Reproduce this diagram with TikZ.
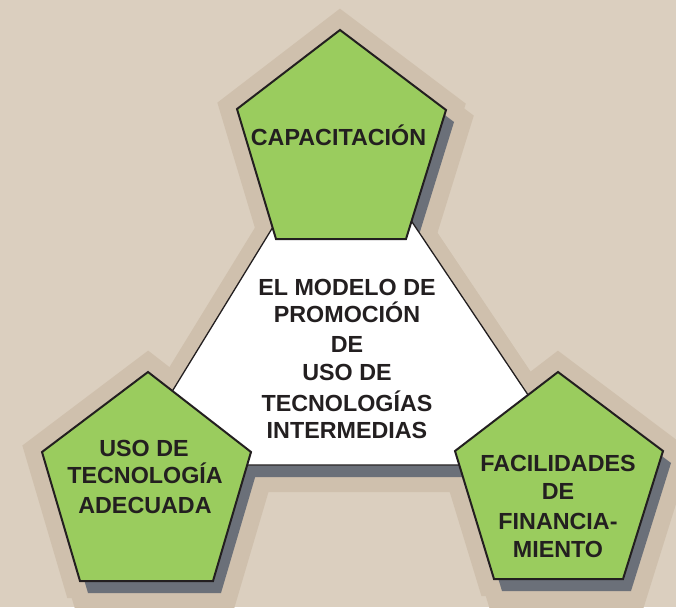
\documentclass[tikz,border=0pt]{standalone}
\usepackage{fontspec}
\setmainfont{Liberation Sans}
\definecolor{bg}{HTML}{DBCFBF}
\definecolor{halo}{HTML}{CFC0AD}
\definecolor{leaf}{HTML}{9ACC5E}
\definecolor{shade}{HTML}{6B7079}
\definecolor{txt}{HTML}{231F20}
\tikzset{
  pentHalo/.style={fill=halo, draw=halo, line width=34pt, line join=miter},
  triHalo/.style={fill=halo, draw=halo, line width=30pt, line join=miter},
  dropshade/.style={fill=shade, shift={(8,12)}},
  pentbox/.style={fill=leaf, draw=txt, line width=2pt, line join=miter},
  tribox/.style={fill=white, draw=txt, line width=1.3pt, line join=miter},
  lbl/.style={font=\fontsize{23.3}{28}\selectfont\bfseries, text=txt, anchor=base, inner sep=0pt}
}
\def\PT{(340,30)--(446,110)--(406,239)--(276,239)--(237,109)--cycle}
\def\PL{(148,372)--(251,452)--(213,581)--(80,581)--(42,452)--cycle}
\def\PR{(558,372)--(663,451)--(623,579)--(494,579)--(455,451)--cycle}
\def\TR{(341,116)--(575,465)--(127,465)--cycle}
\begin{document}
\begin{tikzpicture}[x=1pt,y=-1pt]
\useasboundingbox (0,0) rectangle (676,607);
\clip (0,0) rectangle (676,607);
\fill[bg] (0,0) rectangle (676,607);
% halos
\path[pentHalo] \PT; \path[pentHalo, shift={(8,12)}] \PT;
\path[pentHalo] \PL; \path[pentHalo, shift={(8,12)}] \PL;
\path[pentHalo] \PR; \path[pentHalo, shift={(8,12)}] \PR;
\path[triHalo] \TR; \path[triHalo, shift={(8,12)}] \TR;
% shadows
\path[dropshade] \PT;
\path[dropshade] \PL;
\path[dropshade] \PR;
\path[dropshade] \TR;
% shapes
\path[tribox] \TR;
\path[pentbox] \PT;
\path[pentbox] \PL;
\path[pentbox] \PR;
% texts
\node[lbl] (t1) at (338.5,145) {CAPACITACIÓN};
\node[lbl] (c1) at (347,295) {EL MODELO DE};
\node[lbl] (c2) at (347,322) {PROMOCIÓN};
\node[lbl] (c3) at (347,352) {DE};
\node[lbl] (c4) at (347,380) {USO DE};
\node[lbl] (c5) at (347,411) {TECNOLOGÍAS};
\node[lbl] (c6) at (347,438) {INTERMEDIAS};
\node[lbl] (l1) at (144,456) {USO DE};
\node[lbl] (l2) at (145,483) {TECNOLOGÍA};
\node[lbl] (l3) at (145,513) {ADECUADA};
\node[lbl] (r1) at (558,471) {FACILIDADES};
\node[lbl] (r2) at (558,499) {DE};
\node[lbl] (r3) at (558,529) {FINANCIA-};
\node[lbl] (r4) at (558,557) {MIENTO};
\end{tikzpicture}
\end{document}
